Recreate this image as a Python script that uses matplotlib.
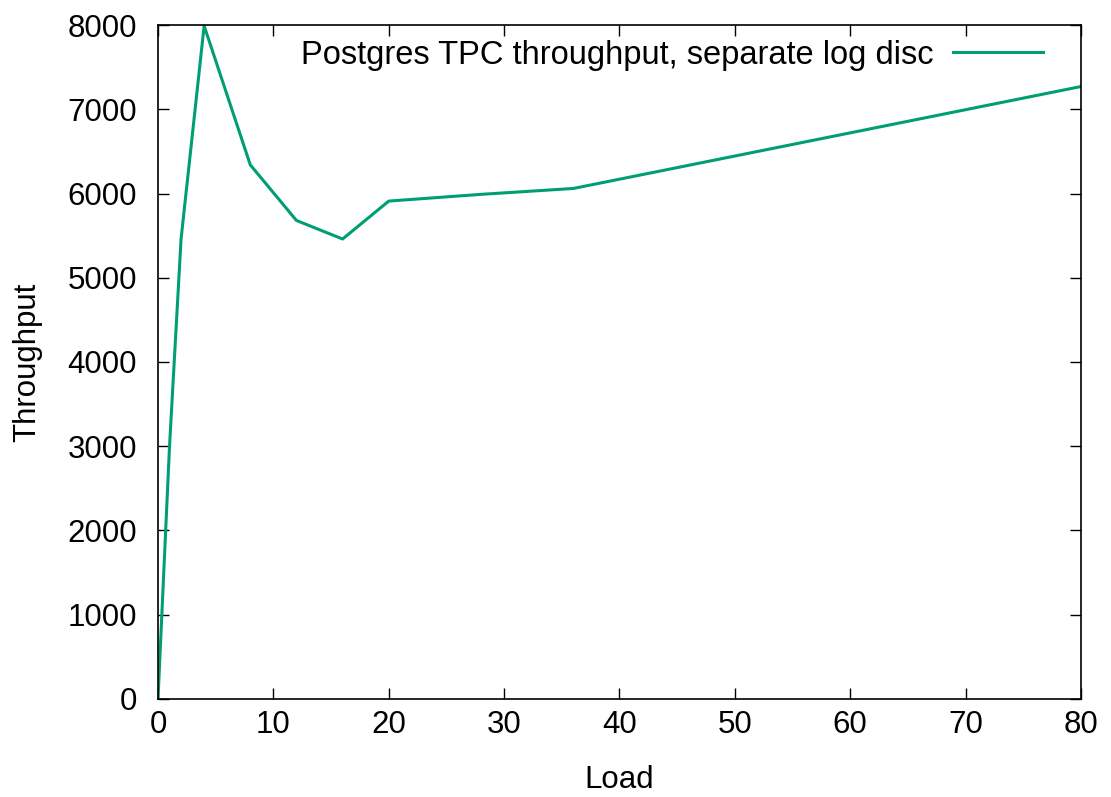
import matplotlib.pyplot as plt

plt.rcParams['font.family'] = ['Liberation Sans', 'DejaVu Sans']

# Data
load = [0, 1, 2, 4, 8, 12, 16, 20, 28, 36, 80]
throughput = [0, 3000, 5460, 7990, 6340, 5680, 5460, 5910, 5990, 6060, 7270]

fig = plt.figure(figsize=(11.11, 7.97), dpi=100)
ax = fig.add_axes([0.1422, 0.123, 0.8308, 0.8456])

ax.plot(load, throughput, color='#009e73', linewidth=2.2,
        label='Postgres TPC throughput, separate log disc')

ax.set_xlim(0, 80)
ax.set_ylim(0, 8000)
ax.set_xticks(range(0, 81, 10))
ax.set_yticks(range(0, 8001, 1000))
ax.tick_params(direction='in', top=True, right=True, length=8, width=1,
               labelsize=22.5)
ax.tick_params(axis='y', pad=15)
ax.tick_params(axis='x', pad=8)
for s in ax.spines.values():
    s.set_linewidth(1.2)

ax.set_xlabel('Load', fontsize=22.5, labelpad=18)
ax.set_ylabel('Throughput', fontsize=22.5, labelpad=18)

ax.legend(loc='upper right', frameon=False, markerfirst=False, fontsize=23.5,
          handlelength=2.75, handletextpad=0.6, borderaxespad=0.05,
          bbox_to_anchor=(0.975, 1.0))

fig.savefig('out.png', dpi=100)
